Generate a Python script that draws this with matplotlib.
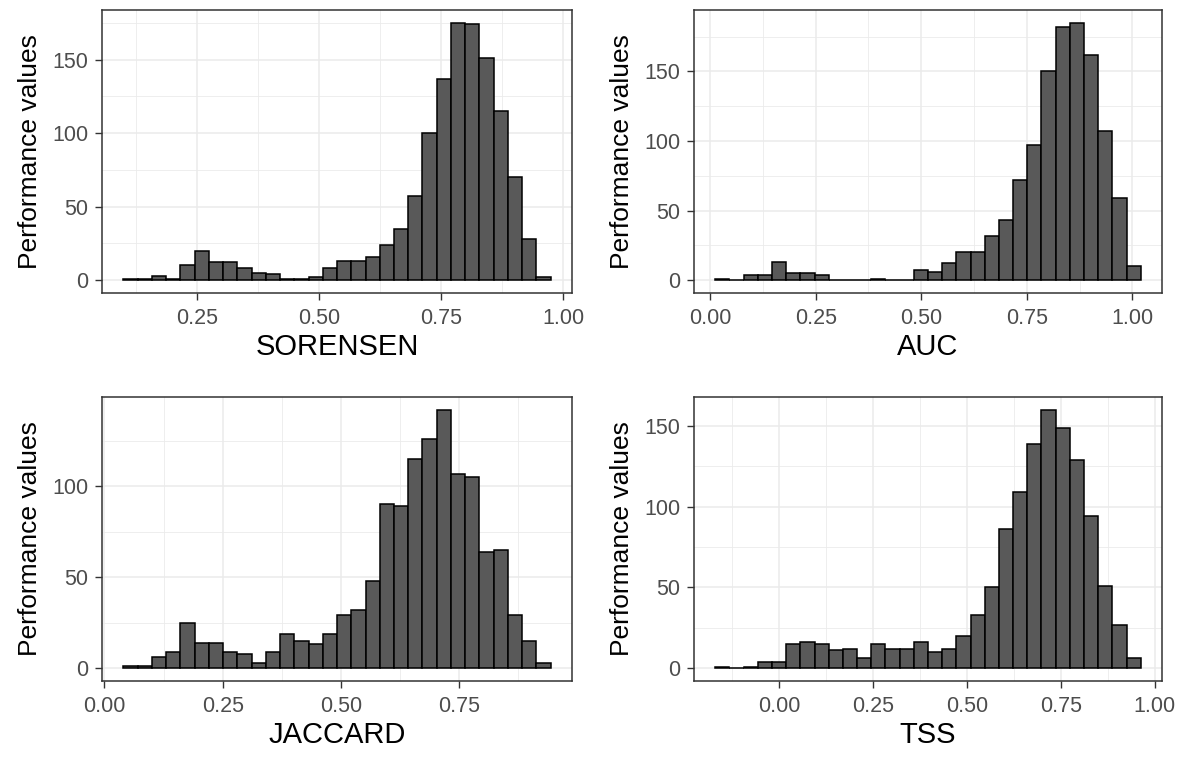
import numpy as np
import matplotlib.pyplot as plt
from matplotlib.ticker import MultipleLocator

plt.rcParams["font.family"] = ["Liberation Sans", "DejaVu Sans"]

# counts per bin (30 bins each)
sorensen_counts = [1, 1, 3, 1, 10, 20, 12, 12, 8, 5, 4, 1, 1, 2, 8,
                   13, 13, 16, 24, 35, 57, 100, 137, 175, 174, 151, 115, 70, 28, 2]
sorensen_range = (0.100, 0.974)

auc_counts = [1, 0, 4, 4, 13, 5, 5, 4, 0, 0, 0, 1, 0, 0, 7,
              6, 12, 20, 20, 32, 43, 72, 97, 150, 182, 185, 162, 107, 59, 10]
auc_range = (0.012, 1.020)

jaccard_counts = [1, 1, 6, 9, 25, 14, 14, 9, 8, 3, 9, 19, 15, 13, 19,
                  29, 32, 48, 90, 89, 115, 126, 142, 107, 105, 64, 65, 29, 15, 3]
jaccard_range = (0.040, 0.944)

tss_counts = [1, 0, 1, 4, 4, 15, 16, 15, 11, 12, 6, 15, 12, 12, 16,
              10, 12, 20, 33, 50, 86, 109, 139, 160, 149, 129, 94, 51, 27, 6]
tss_range = (-0.170, 0.963)

panels = [
    ("SORENSEN", sorensen_counts, sorensen_range, [0.25, 0.50, 0.75, 1.00], [0, 50, 100, 150]),
    ("AUC", auc_counts, auc_range, [0.00, 0.25, 0.50, 0.75, 1.00], [0, 50, 100, 150]),
    ("JACCARD", jaccard_counts, jaccard_range, [0.00, 0.25, 0.50, 0.75], [0, 50, 100]),
    ("TSS", tss_counts, tss_range, [0.00, 0.25, 0.50, 0.75, 1.00], [0, 50, 100, 150]),
]

fig = plt.figure(figsize=(11.93, 7.6), dpi=100)
boxes = [
    [0.0855, 0.6145, 0.394, 0.3724],
    [0.5817, 0.6145, 0.3923, 0.3724],
    [0.0855, 0.1039, 0.394, 0.3737],
    [0.5817, 0.1039, 0.3923, 0.3737],
]

for box, (name, counts, rng, xticks, yticks) in zip(boxes, panels):
    ax = fig.add_axes(box)
    edges = np.linspace(rng[0], rng[1], len(counts) + 1)
    ax.hist(edges[:-1], bins=edges, weights=counts, color="#595959",
            edgecolor="black", linewidth=1.1, zorder=3)

    # ggplot-style 5% expansion
    xr = rng[1] - rng[0]
    ax.set_xlim(rng[0] - 0.05 * xr, rng[1] + 0.05 * xr)
    ymax = max(counts)
    ax.set_ylim(-0.05 * ymax, 1.05 * ymax)

    ax.set_xticks(xticks)
    ax.set_xticklabels([f"{t:.2f}" for t in xticks])
    ax.set_yticks(yticks)
    ax.set_yticklabels([str(t) for t in yticks])
    ax.xaxis.set_minor_locator(MultipleLocator(0.125))
    ax.yaxis.set_minor_locator(MultipleLocator(25))

    ax.grid(which="major", color="#EBEBEB", linewidth=1.1, zorder=0)
    ax.grid(which="minor", color="#EBEBEB", linewidth=0.6, zorder=0)
    ax.set_axisbelow(True)

    for s in ax.spines.values():
        s.set_color("#333333")
        s.set_linewidth(1.1)
    ax.tick_params(which="major", length=5, width=1.0, color="#333333",
                   labelsize=15.5, labelcolor="#4D4D4D")
    ax.tick_params(axis="x", pad=6)
    ax.tick_params(axis="y", pad=5)
    ax.tick_params(which="minor", length=0)

    ax.set_xlabel(name, fontsize=21, color="black", labelpad=3)
    ax.set_ylabel("Performance values", fontsize=19, color="black", labelpad=7)

fig.savefig("out.png", dpi=100)
